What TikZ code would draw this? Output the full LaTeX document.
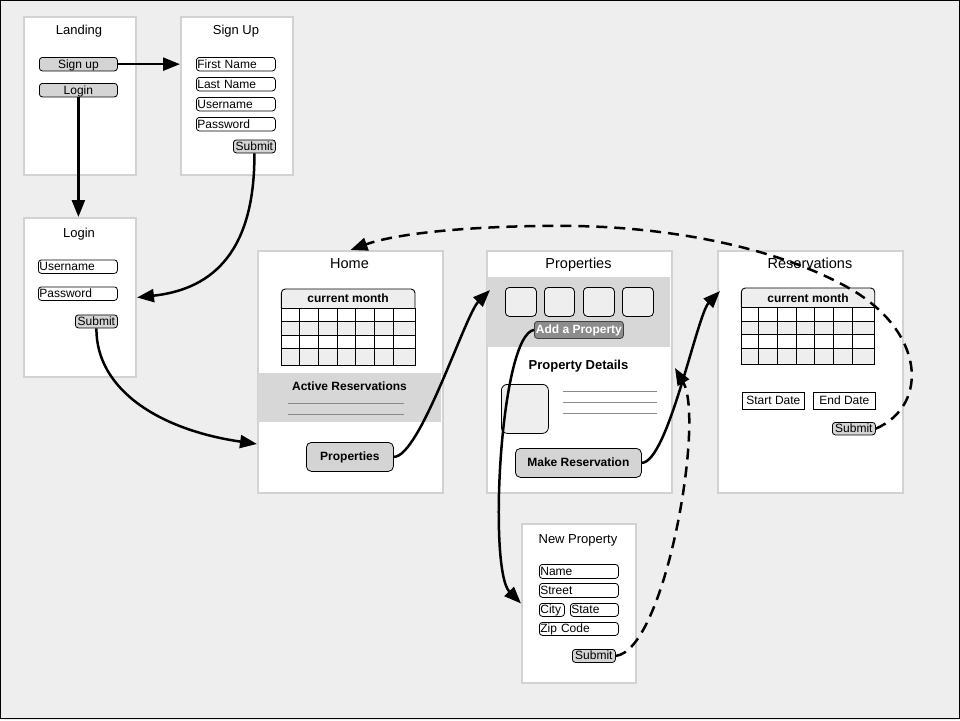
\documentclass[tikz,border=0pt]{standalone}
\usepackage{fontspec}
\setmainfont{Liberation Sans}
\usetikzlibrary{arrows.meta}

\definecolor{canvas}{HTML}{EEEEEE}
\definecolor{framegray}{HTML}{D2D2D2}
\definecolor{btngray}{HTML}{D4D4D4}
\definecolor{bandgray}{HTML}{D7D7D7}
\definecolor{darkbtn}{HTML}{8C8C8C}
\definecolor{linegray}{HTML}{8A8A8A}
\definecolor{cellgray}{HTML}{EEEEEE}

\newcommand\fsz[1]{\fontsize{#1}{#1}\selectfont}

\tikzset{
  screen/.style 2 args={draw=framegray, line width=2pt, fill=white, anchor=north west,
    inner sep=0pt, minimum width=#1, minimum height=#2},
  title/.style={anchor=base, font=\fsz{13}},
  bigtitle/.style={anchor=base, font=\fsz{14.5}},
  field/.style 2 args={draw, line width=0.8pt, rounded corners=3pt, fill=white, anchor=north west,
    inner xsep=1pt, inner ysep=0pt, text width=#1, minimum height=#2, align=left,
    text height=9.8pt, text depth=2pt, font=\fsz{12}},
  button/.style 2 args={draw, line width=0.8pt, rounded corners=3pt, fill=btngray, anchor=north west,
    inner sep=0pt, minimum width=#1, minimum height=#2, text height=9.8pt, text depth=2pt,
    font=\fsz{12}},
  bigbutton/.style 2 args={button={#1}{#2}, rounded corners=5pt, font=\bfseries\fsz{12}},
  datebox/.style={draw, line width=0.8pt, fill=white, anchor=north west, inner sep=0pt,
    minimum width=62, minimum height=17, text height=9.8pt, text depth=2pt, font=\fsz{12}},
  thumb/.style 2 args={draw, line width=0.8pt, rounded corners=4pt, fill=cellgray, anchor=north west,
    inner sep=0pt, minimum width=#1, minimum height=#2},
  boldlabel/.style={font=\bfseries\fsz{12}},
  textline/.style={draw=linegray, line width=0.9pt},
  grid/.style={line width=0.9pt},
  flow/.style={line width=2.5pt, -{Triangle[length=17pt,width=13pt]}},
  dashflow/.style={flow, dash pattern=on 11pt off 7pt},
}

\begin{document}
\begin{tikzpicture}[x=1pt, y=-1pt]
  \useasboundingbox (0,0) rectangle (960,720);
  \fill[canvas] (0,0) rectangle (960,720);
  \draw[line width=1pt] (0.5,0.5) rectangle (959.5,718.5);

  % ---------- Landing ----------
  \node[screen={112}{158}] (landing) at (23,16) {};
  \node[title] (landing-title) at (79,34) {Landing};
  \node[button={78}{13.5}] (btn-signup) at (39,57) {Sign up};
  \node[button={78}{13.5}] (btn-login) at (39,83) {Login};

  % ---------- Sign Up ----------
  \node[screen={112}{158}] (signup) at (180,16) {};
  \node[title] (signup-title) at (236,34) {Sign Up};
  \node[field={77pt}{13.5}] (su-first) at (196,57) {First Name};
  \node[field={77pt}{13.5}] (su-last) at (196,77) {Last Name};
  \node[field={77pt}{13.5}] (su-user) at (196,97) {Username};
  \node[field={77pt}{13.5}] (su-pass) at (196,117) {Password};
  \node[button={42}{13}] (su-submit) at (233,139.5) {Submit};

  % ---------- Login ----------
  \node[screen={112}{159}] (login) at (23,217) {};
  \node[title] (login-title) at (79,237) {Login};
  \node[field={77pt}{13.5}] (li-user) at (38,259.5) {Username};
  \node[field={77pt}{13.5}] (li-pass) at (38,286.5) {Password};
  \node[button={42}{13}] (li-submit) at (75,314.5) {Submit};

  % ---------- Home ----------
  \node[screen={185}{242}] (home) at (257,250) {};
  \node[bigtitle] (home-title) at (349.5,268) {Home};
  \begin{scope}[shift={(281.3,289)}]
    \fill[cellgray] (0,32.5) rectangle (133.7,46);
    \fill[cellgray] (0,59.5) rectangle (133.7,76);
    \draw[grid, fill=cellgray, rounded corners=4pt] (0,19) -- (0,0) -- (133.7,0) -- (133.7,19);
    \node[boldlabel] (home-cal) at (66.85,9.5) {current month};
    \draw[grid] (0,19) rectangle (133.7,76);
    \foreach \x in {17.7,36.7,55.7,73.7,92.7,111.9} \draw[grid] (\x,19) -- (\x,76);
    \foreach \y in {32.5,46,59.5} \draw[grid] (0,\y) -- (133.7,\y);
  \end{scope}
  \fill[bandgray] (258,373) rectangle (441,422);
  \node[boldlabel, anchor=base] (home-active) at (349.5,390) {Active Reservations};
  \draw[textline] (288,403) -- (404,403);
  \draw[textline] (288,414) -- (404,414);
  \node[bigbutton={87}{29}] (prop-btn) at (306,442) {Properties};

  % ---------- Properties ----------
  \node[screen={185}{242}] (props) at (486,250) {};
  \node[bigtitle] (props-title) at (578.5,268) {Properties};
  \fill[bandgray] (487,277) rectangle (670,347);
  \node[thumb={31}{29}] (thumb-a) at (505,287) {};
  \node[thumb={30}{29}] (thumb-b) at (544,287) {};
  \node[thumb={31}{29}] (thumb-c) at (583,287) {};
  \node[thumb={31}{29}] (thumb-d) at (622,287) {};
  \node[button={89}{17}, fill=darkbtn, draw=black!75, text=white, font=\bfseries\fsz{12}] (add-prop) at (534,321) {Add a Property};
  \node[font=\bfseries\fsz{13}, anchor=base] (details-title) at (578.5,369) {Property Details};
  \node[thumb={47}{49}, rounded corners=6pt] (details-img) at (501,384) {};
  \draw[textline] (563,391) -- (657,391);
  \draw[textline] (563,402) -- (657,402);
  \draw[textline] (563,413) -- (657,413);
  \node[bigbutton={126}{29}] (mk-res) at (515,448) {Make Reservation};

  % ---------- Reservations ----------
  \node[screen={185}{242}] (res) at (717,250) {};
  \node[bigtitle] (res-title) at (810,268) {Reservations};
  \begin{scope}[shift={(741.3,288)}]
    \fill[cellgray] (0,33) rectangle (133.4,46.3);
    \fill[cellgray] (0,60.3) rectangle (133.4,76.3);
    \draw[grid, fill=cellgray, rounded corners=4pt] (0,19.3) -- (0,0) -- (133.4,0) -- (133.4,19.3);
    \node[boldlabel] (res-cal) at (66.7,10) {current month};
    \draw[grid] (0,19.3) rectangle (133.4,76.3);
    \foreach \x in {17.4,36.4,55.4,73.4,92.4,111.4} \draw[grid] (\x,19.3) -- (\x,76.3);
    \foreach \y in {33,46.3,60.3} \draw[grid] (0,\y) -- (133.4,\y);
  \end{scope}
  \node[datebox] (start-date) at (742,392) {Start Date};
  \node[datebox] (end-date) at (813,392) {End Date};
  \node[button={43}{12.5}] (rs-submit) at (832,422) {Submit};

  % ---------- New Property ----------
  \node[screen={114}{159}] (newprop) at (521,523) {};
  \node[title] (np-title) at (578,543) {New Property};
  \node[field={77pt}{14}] (np-name) at (539,564) {Name};
  \node[field={77pt}{14}] (np-street) at (539,583) {Street};
  \node[field={23pt}{13}] (np-city) at (539,603) {City};
  \node[field={46pt}{13}] (np-state) at (570,603) {State};
  \node[field={77pt}{13}] (np-zip) at (539,622) {Zip Code};
  \node[button={43}{13}] (np-submit) at (572,649) {Submit};

  % ---------- Navigation ----------
  \draw[flow] (btn-signup.east) -- (btn-signup.east -| signup.west);
  \draw[flow] (btn-login.south) -- (btn-login.south |- login.north);
  \draw[flow] (su-submit.south) .. controls (255,260) and (205,290) .. (login.east);
  \draw[flow] (li-submit.south) .. controls (96,390) and (160,430) .. ([yshift=50pt]home.south west);
  \draw[flow] (prop-btn.east) .. controls (420,457) and (465,315) .. ([xshift=4pt,yshift=-40pt]props.north west);
  \draw[flow] (mk-res.east) .. controls (668,462) and (697,315) .. ([xshift=3pt,yshift=-41pt]res.north west);
  \draw[flow] (add-prop.west) .. controls (500,335) and (488,570) .. (newprop.west);
  \draw[dashflow] (np-submit.east) .. controls (665,650) and (705,420) .. ([xshift=2pt,yshift=4pt]props.east);
  \coordinate (loop-turn) at (847,287);
  \coordinate (loop-top) at (573,226);
  \draw[dashflow] (rs-submit.east) .. controls (930,405) and (925,330) .. (loop-turn)
    .. controls (769,244) and (660,227) .. (loop-top)
    .. controls (486,225) and (400,232) .. (home.north);
\end{tikzpicture}
\end{document}
